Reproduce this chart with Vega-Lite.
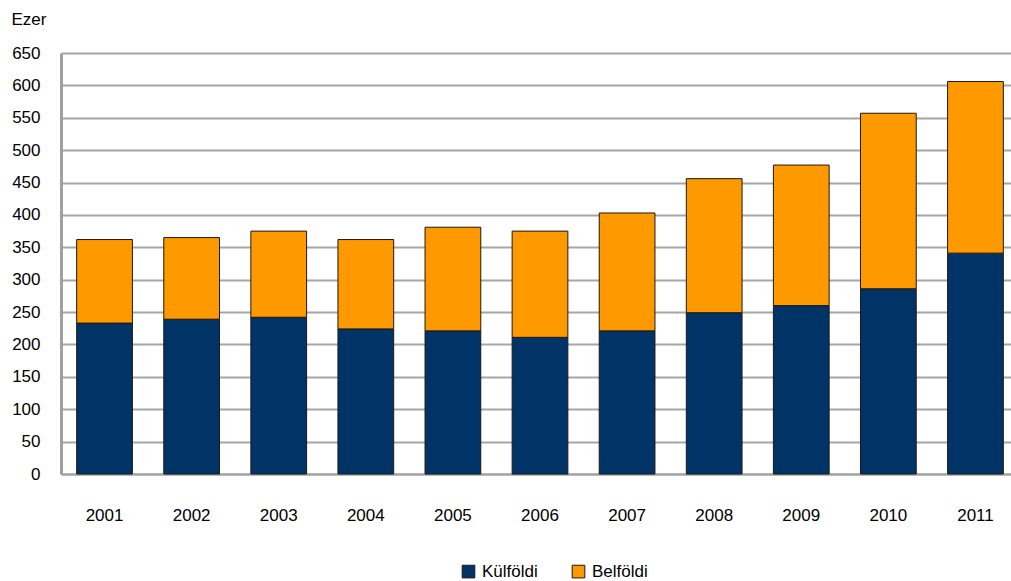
{
  "$schema": "https://vega.github.io/schema/vega-lite/v6.json",
  "autosize": {"type": "none"},
  "width": 958,
  "height": 421,
  "padding": {"left": 61, "top": 53, "right": 0, "bottom": 107},
  "background": "white",
  "config": {
    "view": {"stroke": null},
    "font": "Liberation Sans",
    "axis": {"labelFont": "Liberation Sans", "titleFont": "Liberation Sans"},
    "legend": {"labelFont": "Liberation Sans"}
  },
  "data": {
    "values": [
      {"ev": "2001", "tipus": "Külföldi", "ertek": 233, "rend": 1},
      {"ev": "2001", "tipus": "Belföldi", "ertek": 129, "rend": 2},
      {"ev": "2002", "tipus": "Külföldi", "ertek": 239, "rend": 1},
      {"ev": "2002", "tipus": "Belföldi", "ertek": 126, "rend": 2},
      {"ev": "2003", "tipus": "Külföldi", "ertek": 242, "rend": 1},
      {"ev": "2003", "tipus": "Belföldi", "ertek": 133, "rend": 2},
      {"ev": "2004", "tipus": "Külföldi", "ertek": 224, "rend": 1},
      {"ev": "2004", "tipus": "Belföldi", "ertek": 138, "rend": 2},
      {"ev": "2005", "tipus": "Külföldi", "ertek": 221, "rend": 1},
      {"ev": "2005", "tipus": "Belföldi", "ertek": 160, "rend": 2},
      {"ev": "2006", "tipus": "Külföldi", "ertek": 211, "rend": 1},
      {"ev": "2006", "tipus": "Belföldi", "ertek": 164, "rend": 2},
      {"ev": "2007", "tipus": "Külföldi", "ertek": 221, "rend": 1},
      {"ev": "2007", "tipus": "Belföldi", "ertek": 182, "rend": 2},
      {"ev": "2008", "tipus": "Külföldi", "ertek": 249, "rend": 1},
      {"ev": "2008", "tipus": "Belföldi", "ertek": 207, "rend": 2},
      {"ev": "2009", "tipus": "Külföldi", "ertek": 260, "rend": 1},
      {"ev": "2009", "tipus": "Belföldi", "ertek": 217, "rend": 2},
      {"ev": "2010", "tipus": "Külföldi", "ertek": 286, "rend": 1},
      {"ev": "2010", "tipus": "Belföldi", "ertek": 271, "rend": 2},
      {"ev": "2011", "tipus": "Külföldi", "ertek": 341, "rend": 1},
      {"ev": "2011", "tipus": "Belföldi", "ertek": 265, "rend": 2}
    ]
  },
  "mark": {"type": "bar", "stroke": "#1a1a1a", "strokeWidth": 1},
  "encoding": {
    "x": {
      "field": "ev",
      "type": "nominal",
      "scale": {"paddingInner": 0.36, "paddingOuter": 0.18},
      "axis": {
        "title": null,
        "labelAngle": 0,
        "labelFontSize": 17,
        "labelColor": "#000000",
        "labelBaseline": "top",
        "labelPadding": 33,
        "ticks": false,
        "domainColor": "#a0a0a0",
        "domainWidth": 2
      }
    },
    "y": {
      "field": "ertek",
      "type": "quantitative",
      "stack": "zero",
      "scale": {"domain": [0, 650], "nice": false},
      "axis": {
        "values": [0, 50, 100, 150, 200, 250, 300, 350, 400, 450, 500, 550, 600, 650],
        "title": "Ezer",
        "titleAngle": 0,
        "titleFontSize": 17,
        "titleFontWeight": "normal",
        "titleColor": "#000000",
        "titleAlign": "left",
        "titleBaseline": "middle",
        "titleX": -50,
        "titleY": -34,
        "labelFontSize": 17,
        "labelColor": "#000000",
        "labelPadding": 21,
        "ticks": false,
        "domainColor": "#a0a0a0",
        "domainWidth": 3,
        "grid": true,
        "gridColor": "#a6a6a6",
        "gridWidth": 2
      }
    },
    "color": {
      "field": "tipus",
      "type": "nominal",
      "scale": {"domain": ["Külföldi", "Belföldi"], "range": ["#003366", "#ff9900"]},
      "legend": {
        "title": null,
        "orient": "none",
        "direction": "horizontal",
        "legendX": 399,
        "legendY": 510,
        "symbolType": "square",
        "symbolSize": 160,
        "symbolStrokeColor": "#1a1a1a",
        "symbolStrokeWidth": 1,
        "labelFontSize": 17,
        "labelColor": "#000000",
        "columnPadding": 32,
        "labelOffset": 5
      }
    },
    "order": {"field": "rend", "type": "quantitative"}
  }
}
